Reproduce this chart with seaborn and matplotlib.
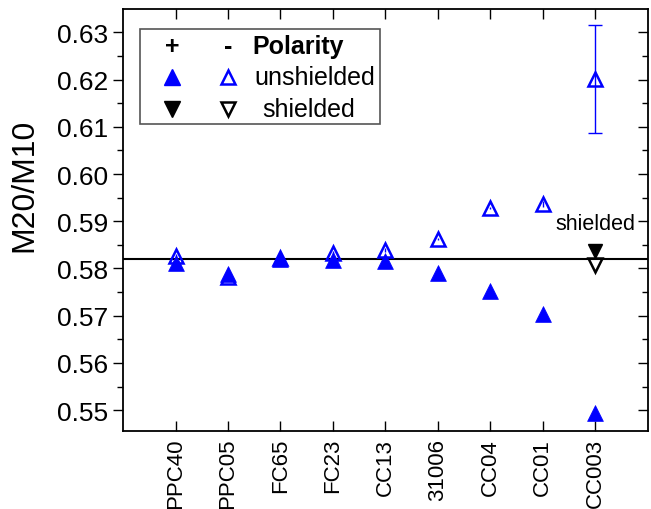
import numpy as np
import pandas as pd
import matplotlib
matplotlib.use("Agg")
import matplotlib.pyplot as plt
import seaborn as sns
from matplotlib.ticker import MultipleLocator
from matplotlib.patches import Rectangle

# data
samples = ["PPC40", "PPC05", "FC65", "FC23", "CC13", "31006", "CC04", "CC01", "CC003"]
pos_unshielded = [0.5812, 0.5789, 0.5821, 0.5817, 0.5816, 0.5790, 0.5752, 0.5703, 0.5495]
pos_err = [0.0007, 0.0005, 0.0006, 0.0007, 0.0006, 0.0007, 0.0002, 0.0006, 0.0006]
neg_unshielded = [0.5827, 0.5781, 0.5823, 0.5833, 0.5839, 0.5862, 0.5928, 0.5937, 0.6201]
neg_err = [0.0003, 0.0005, 0.0006, 0.0003, 0.0004, 0.0002, 0.0002, 0.0006, 0.0114]
shield_sample = "CC003"
pos_shielded = 0.5838
neg_shielded = 0.5807
reference = 0.582

df = pd.DataFrame({"sample": samples, "pos": pos_unshielded, "neg": neg_unshielded})
df["x"] = np.arange(len(samples))

sns.set_style("ticks")
plt.rcParams["font.family"] = ["Liberation Sans", "DejaVu Sans"]
for k in ["text.color", "axes.labelcolor", "xtick.color", "ytick.color", "axes.edgecolor"]:
    plt.rcParams[k] = "black"

fig = plt.figure(figsize=(6.51, 5.10), dpi=100)
ax = fig.add_axes([0.189, 0.153, 0.806, 0.827])

blue = "#0000ff"
ax.axhline(reference, color="black", lw=1.5, zorder=1)

ax.errorbar(df["x"], df["pos"], yerr=pos_err, fmt="none", ecolor=blue, elinewidth=1, zorder=2)
ax.errorbar(df["x"].iloc[:-1], df["neg"].iloc[:-1], yerr=neg_err[:-1], fmt="none",
            ecolor=blue, elinewidth=1, zorder=2)
# only the big bar has caps
ax.errorbar(df["x"].iloc[-1:], df["neg"].iloc[-1:], yerr=neg_err[-1:], fmt="none",
            ecolor=blue, elinewidth=1, capsize=5, zorder=2)

sns.scatterplot(data=df, x="x", y="pos", marker="^", s=130, color=blue,
                edgecolor=blue, linewidth=0.5, ax=ax, zorder=3)
ax.plot(df["x"], df["neg"], ls="none", marker="^", ms=10, mfc="none",
        mec=blue, mew=1.8, zorder=4)

xs = samples.index(shield_sample)
ax.plot([xs], [pos_shielded], ls="none", marker="v", ms=10.5, color="black", zorder=3)
ax.plot([xs], [neg_shielded], ls="none", marker="v", ms=10, mfc="none",
        mec="black", mew=1.8, zorder=4)
ax.text(xs, pos_shielded + 0.0034, "shielded", ha="center", va="bottom", fontsize=15.5)

ax.set_xlim(-1, len(samples))
ax.set_ylim(0.5456, 0.6349)
ax.set_xticks(df["x"])
ax.set_xticklabels(samples, rotation=90, fontsize=16)
ax.yaxis.set_major_locator(MultipleLocator(0.01))
ax.yaxis.set_minor_locator(MultipleLocator(0.005))
ax.yaxis.set_major_formatter(matplotlib.ticker.FormatStrFormatter("%.2f"))
ax.tick_params(axis="y", which="both", left=True, right=True, labelsize=19)
ax.tick_params(axis="y", which="major", length=7, width=1)
ax.tick_params(axis="y", which="minor", length=4, width=1)
ax.tick_params(axis="x", direction="in", top=True, bottom=True, length=7, width=1, pad=5)
ax.set_xlabel("")
ax.set_ylabel("M20/M10", fontsize=23)
ax.yaxis.set_label_coords(-0.16, 0.585)
for side in ax.spines.values():
    side.set_linewidth(1.3)

# right-hand ticks point inward
for t in ax.yaxis.get_major_ticks() + ax.yaxis.get_minor_ticks():
    t.tick2line.set_marker(matplotlib.lines.TICKLEFT)

# legend box
tr = ax.transAxes
ax.add_patch(Rectangle((0.032, 0.727), 0.458, 0.226, transform=tr, fill=False,
                       edgecolor="#555555", lw=1.2, zorder=5))
ax.text(0.093, 0.912, "+", transform=tr, ha="center", va="center", fontsize=18, fontweight="bold")
ax.text(0.2, 0.912, "-", transform=tr, ha="center", va="center", fontsize=18, fontweight="bold")
ax.text(0.246, 0.912, "Polarity", transform=tr, ha="left", va="center", fontsize=18, fontweight="bold")
ax.plot([0.093], [0.839], transform=tr, marker="^", ms=11, color=blue, clip_on=False, zorder=6)
ax.plot([0.2], [0.839], transform=tr, marker="^", ms=9.5, mfc="none", mec=blue, mew=1.8,
        clip_on=False, zorder=6)
ax.text(0.251, 0.839, "unshielded", transform=tr, ha="left", va="center", fontsize=18)
ax.plot([0.093], [0.763], transform=tr, marker="v", ms=11, color="black", clip_on=False, zorder=6)
ax.plot([0.2], [0.763], transform=tr, marker="v", ms=9.5, mfc="none", mec="black", mew=1.8,
        clip_on=False, zorder=6)
ax.text(0.265, 0.763, "shielded", transform=tr, ha="left", va="center", fontsize=18)

fig.savefig("out.png", dpi=100)
